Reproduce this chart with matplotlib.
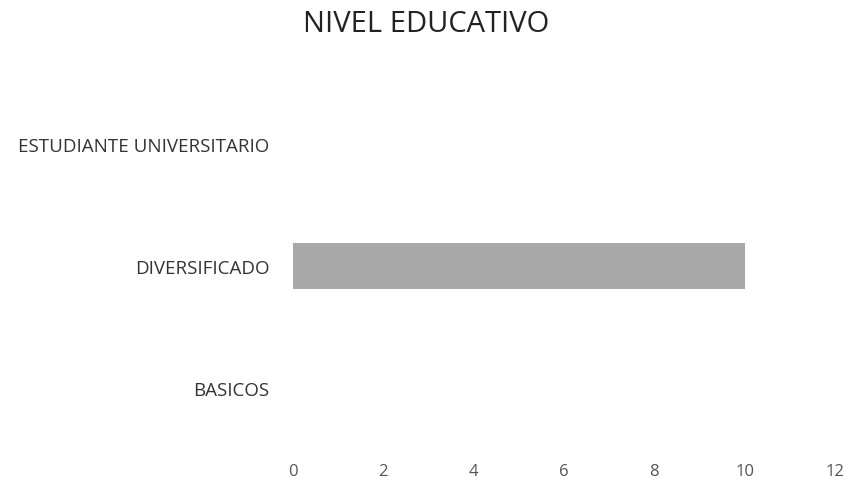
import matplotlib
matplotlib.use('Agg')
import matplotlib.pyplot as plt

# datos del grafico
categorias = ['BASICOS', 'DIVERSIFICADO', 'ESTUDIANTE UNIVERSITARIO']
valores = [0, 10, 0]
ticks_x = [0, 2, 4, 6, 8, 10, 12]

plt.rcParams['font.family'] = ['Open Sans', 'DejaVu Sans']

fig = plt.figure(figsize=(8.49, 4.89), dpi=100)
# ejes colocados en pixeles de la imagen original
ax = fig.add_axes([293/849, (489-450)/489, (835-293)/849, (450-84)/489])

ax.barh(categorias, valores, height=0.38, color='#a8a8a8')
ax.set_xlim(0, 12)
ax.set_ylim(-0.5, 2.5)
ax.set_xticks(ticks_x)
ax.tick_params(axis='x', length=0, pad=10, labelsize=12, labelcolor='#555555')
ax.tick_params(axis='y', length=0, pad=17, labelsize=13.5, labelcolor='#333333')
for s in ax.spines.values():
    s.set_visible(False)

fig.text(426/849, 1 - 24/489, 'NIVEL EDUCATIVO', ha='center', va='center',
         fontsize=21, color='#222222')

fig.savefig('out.png', dpi=100)
